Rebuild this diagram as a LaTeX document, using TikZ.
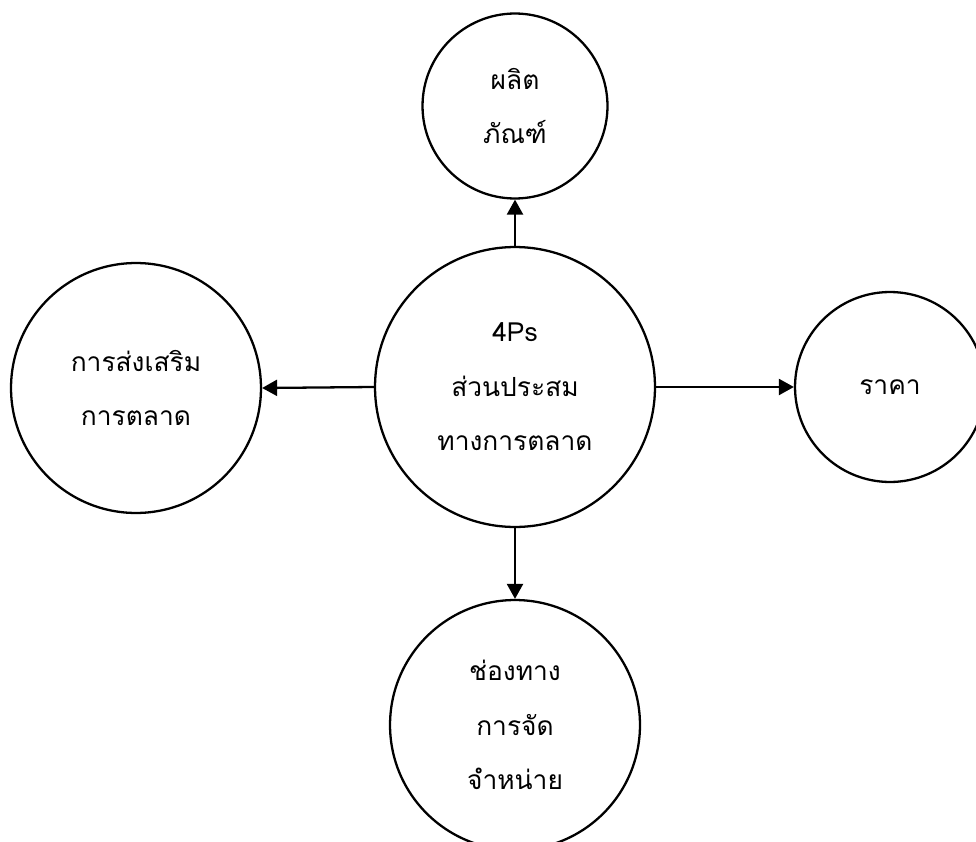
\documentclass[tikz,border=0pt]{standalone}
\usepackage{fontspec}
\newfontfamily\thaifont[Script=Thai]{Loma}
\usetikzlibrary{arrows.meta, positioning}
\tikzset{
  mixcircle/.style={circle, draw, line width=1.3pt, align=center, inner sep=0pt,
    font=\thaifont\fontsize{15}{31}\selectfont},
  mixarrow/.style={line width=1.3pt, -{Triangle[length=0.3cm, width=0.32cm]}}
}

\begin{document}
\begin{tikzpicture}[x=0.02cm, y=-0.02cm]
  \useasboundingbox (0,0) rectangle (976,841);
  \clip (0,0) rectangle (976,841);

  % Center
  \node[mixcircle, minimum size=5.6cm] (mix) at (515,387) {4Ps\\ส่วนประสม\\ทางการตลาด};

  % The four Ps
  \node[mixcircle, minimum size=3.7cm] (product) at (515,106) {ผลิต\\ภัณฑ์};
  \node[mixcircle, minimum size=5cm] (promotion) at (136,388) {การส่งเสริม\\การตลาด};
  \node[mixcircle, minimum size=3.8cm] (price) at (890,387) {ราคา};
  \node[mixcircle, minimum size=5cm] (place) at (515,725) {ช่องทาง\\การจัด\\จำหน่าย};

  % Arrows
  \draw[mixarrow] (mix.north) -- (product.south);
  \draw[mixarrow] (mix.west) -- (promotion.east);
  \draw[mixarrow] (mix.east) -- (price.west);
  \draw[mixarrow] (mix.south) -- (place.north);
\end{tikzpicture}
\end{document}
